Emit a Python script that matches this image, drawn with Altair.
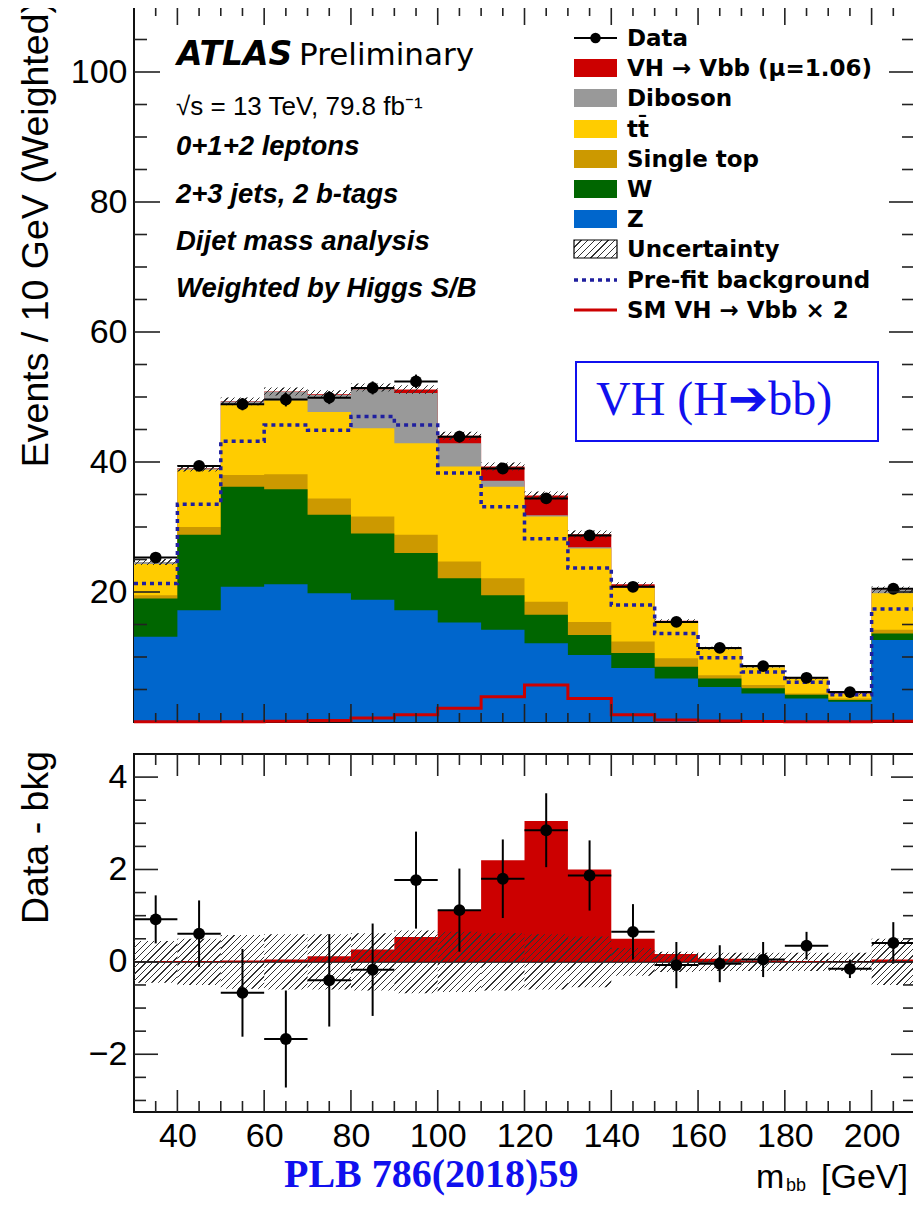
import math
import altair as alt
import pandas as pd

# ---------------- values ----------------
bin_lo = [30, 40, 50, 60, 70, 80, 90, 100, 110, 120, 130, 140, 150, 160, 170, 180, 190, 200]
bin_hi = [40, 50, 60, 70, 80, 90, 100, 110, 120, 130, 140, 150, 160, 170, 180, 190, 200, 210]
bin_mid = [35, 45, 55, 65, 75, 85, 95, 105, 115, 125, 135, 145, 155, 165, 175, 185, 195, 205]

z_jets = [13.1, 17.2, 20.8, 21.2, 19.8, 18.8, 17.2, 15.3, 14.2, 12.1, 10.3, 8.3, 6.7, 5.4, 4.4, 3.6, 3.1, 12.6]
w_jets = [5.9, 11.6, 15.4, 14.6, 12.1, 10.2, 8.8, 6.8, 5.3, 4.4, 3.1, 2.3, 1.8, 1.3, 0.8, 0.6, 0.3, 1.0]
single_top = [0.5, 1.2, 1.8, 2.3, 2.5, 2.6, 2.8, 2.6, 2.6, 2.0, 2.0, 1.8, 1.3, 0.5, 0.5, 0.2, 0.2, 0.6]
ttbar = [4.8, 8.8, 10.8, 11.4, 13.3, 13.6, 14.1, 14.6, 14.1, 13.1, 11.3, 8.2, 5.5, 4.0, 2.7, 2.2, 0.7, 5.6]
diboson = [0.3, 0.2, 0.5, 1.3, 2.6, 6.0, 7.7, 3.6, 0.9, 0.2, 0.2, 0.1, 0.1, 0.1, 0.1, 0.1, 0.1, 0.5]
vh_signal = [0.02, 0.02, 0.03, 0.05, 0.12, 0.27, 0.54, 1.12, 2.2, 3.05, 2.0, 0.5, 0.17, 0.07, 0.03, 0.02, 0.01, 0.05]

prefit_bkg = [21.3, 33.5, 43.2, 45.7, 44.9, 47.0, 45.7, 38.3, 33.1, 28.2, 23.7, 18.0, 13.6, 9.9, 7.7, 6.1, 4.2, 17.4]
sm_vh_x2 = [0.05, 0.05, 0.05, 0.1, 0.25, 0.6, 1.1, 2.1, 3.9, 5.7, 3.6, 1.1, 0.3, 0.15, 0.08, 0.05, 0.03, 0.1]

data_events = [25.3, 39.4, 48.9, 49.6, 49.9, 51.4, 52.4, 43.9, 39.0, 34.4, 28.7, 20.8, 15.4, 11.4, 8.6, 6.8, 4.6, 20.5]
data_err = [0.52, 0.72, 0.95, 1.05, 1.0, 1.0, 1.05, 0.9, 0.85, 0.8, 0.76, 0.6, 0.5, 0.4, 0.38, 0.3, 0.2, 0.45]
data_minus_bkg = [0.92, 0.61, -0.67, -1.67, -0.4, -0.17, 1.77, 1.12, 1.8, 2.85, 1.87, 0.65, -0.07, -0.04, 0.05, 0.35, -0.15, 0.41]
bkg_unc = [0.45, 0.5, 0.58, 0.6, 0.6, 0.62, 0.68, 0.65, 0.62, 0.6, 0.55, 0.3, 0.22, 0.2, 0.2, 0.2, 0.2, 0.5]

x_major_ticks = [40, 60, 80, 100, 120, 140, 160, 180, 200]
x_minor_ticks = [35, 45, 50, 55, 65, 70, 75, 85, 90, 95, 105, 110, 115, 125, 130, 135,
                 145, 150, 155, 165, 170, 175, 185, 190, 195, 205]
upper_y_major = [20, 40, 60, 80, 100]
upper_y_minor = [5, 10, 15, 25, 30, 35, 45, 50, 55, 65, 70, 75, 85, 90, 95, 105]
lower_y_major = [-2, 0, 2, 4]
lower_y_minor = [-3, -2.5, -1.5, -1, -0.5, 0.5, 1, 1.5, 2.5, 3, 3.5]

comp_names = ["Z", "W", "Single top", "tt", "Diboson", "VH"]
comp_colors = ["#0066cc", "#006600", "#cc9900", "#ffcc00", "#999999", "#cc0000"]
comp_values = [z_jets, w_jets, single_top, ttbar, diboson, vh_signal]

legend_labels = ["Data", "VH \u2192 Vbb (\u03bc=1.06)", "Diboson", "tt\u0304", "Single top", "W", "Z",
                 "Uncertainty", "Pre-fit background", "SM VH \u2192 Vbb \u00d7 2"]
info_lines = ["0+1+2 leptons", "2+3 jets, 2 b-tags", "Dijet mass analysis", "Weighted by Higgs S/B"]
upper_title = "Events / 10 GeV (Weighted)"
lower_title = "Data - bkg"

# ---------------- layout / style ----------------
W, H1, H2 = 781, 715, 358
XDOM, Y1DOM, Y2DOM = [30, 210], [0, 110], [-3.25, 4.5]
SANS = "Liberation Sans"
DJ = "DejaVu Sans"
TICK = "#222222"
PREFIT_COLOR = "#1f1f9f"
RED = "#cc0000"

xs = alt.Scale(domain=XDOM, nice=False, zero=False)
y1s = alt.Scale(domain=Y1DOM, nice=False, zero=False)
y2s = alt.Scale(domain=Y2DOM, nice=False, zero=False)
dummy = pd.DataFrame({"a": [0]})
bin_px = W / len(bin_lo)

axis_y1 = alt.Axis(values=upper_y_major, title=None, grid=False, ticks=False,
                   domain=False, labelFont=SANS, labelFontSize=34, labelColor="black", labelPadding=7,
                   labelFlush=False, labelOverlap=False)
axis_y2 = alt.Axis(values=lower_y_major, title=None, grid=False, ticks=False,
                   domain=False, labelFont=SANS, labelFontSize=34, labelColor="black", labelPadding=7,
                   labelFlush=False, labelOverlap=False)
axis_x2 = alt.Axis(values=x_major_ticks, title=None, grid=False, ticks=False, domain=False,
                   labelFont=SANS, labelFontSize=34, labelColor="black", labelPadding=7,
                   labelFlush=False, labelOverlap=False)


def hatch_fill(wpx, hpx, color="#333333", period=4.6, lw=0.9):
    hpx = max(hpx, 1.0)
    s = (wpx * wpx + hpx * hpx) / (wpx + hpx)
    gx, gy = wpx / s, hpx / s
    span = (wpx + hpx) / math.sqrt(2)
    n = max(1, int(round(span / period)))
    f = min(0.8, lw / (span / n))
    clear = "rgba(255,255,255,0)"
    stops = []
    for k in range(n):
        a, b, c = k / n, (k + f) / n, (k + 1) / n
        stops += [{"offset": a, "color": color}, {"offset": b, "color": color},
                  {"offset": b, "color": clear}, {"offset": c, "color": clear}]
    return {"gradient": "linear", "x1": 0, "y1": 0, "x2": gx, "y2": gy, "stops": stops}


def step_df(values):
    return pd.DataFrame({"x": bin_lo + [bin_hi[-1]], "v": list(values) + [values[-1]]})


def x_rules(vals, y0, y1, xaxis):
    return alt.Chart(pd.DataFrame({"t": vals})).mark_rule(color=TICK, strokeWidth=1.6).encode(
        x=alt.X("t:Q", scale=xs, axis=xaxis), y=alt.value(y0), y2=alt.value(y1))


def y_rules(vals, scale, x0, x1, yaxis):
    return alt.Chart(pd.DataFrame({"t": vals})).mark_rule(color=TICK, strokeWidth=1.6).encode(
        y=alt.Y("t:Q", scale=scale, axis=yaxis), x=alt.value(x0), x2=alt.value(x1))


def txt(s, x, y, size, font=SANS, weight="normal", style="normal", color="black", align="left", angle=0):
    return alt.Chart(dummy).mark_text(
        fontSize=size, font=font, fontWeight=weight, fontStyle=style, color=color,
        align=align, baseline="alphabetic", angle=angle).encode(
        x=alt.value(x), y=alt.value(y), text=alt.value(s))


# ---------------- upper panel ----------------
running = [0.0] * len(bin_lo)
tops = []
for vals in comp_values:
    running = [r + v for r, v in zip(running, vals)]
    tops.append(list(running))
total_sb = tops[-1]

XU = dict(scale=xs, axis=None)
YU = dict(scale=y1s, axis=axis_y1)

upper = []
for i in reversed(range(len(comp_names))):
    upper.append(alt.Chart(step_df(tops[i])).mark_area(interpolate="step-after", color=comp_colors[i]).encode(
        x=alt.X("x:Q", **XU), y=alt.Y("v:Q", **YU), y2=alt.datum(0)))

hatch_up = [{"lo": bin_lo[i], "hi": bin_hi[i], "b": total_sb[i] - bkg_unc[i], "t": total_sb[i] + bkg_unc[i],
             "grad": hatch_fill(bin_px, 2 * bkg_unc[i] * H1 / (Y1DOM[1] - Y1DOM[0]))} for i in range(len(bin_lo))]
upper.append(alt.Chart(alt.Data(values=hatch_up)).mark_rect().encode(
    x=alt.X("lo:Q", **XU), x2="hi:Q", y=alt.Y("b:Q", **YU), y2="t:Q",
    fill=alt.Fill("grad:N", scale=None)))

upper.append(alt.Chart(step_df(prefit_bkg)).mark_line(
    interpolate="step-after", color=PREFIT_COLOR, strokeWidth=3.5, strokeDash=[4, 4]).encode(
    x=alt.X("x:Q", **XU), y=alt.Y("v:Q", **YU)))
upper.append(alt.Chart(step_df(sm_vh_x2)).mark_line(
    interpolate="step-after", color=RED, strokeWidth=3).encode(
    x=alt.X("x:Q", **XU), y=alt.Y("v:Q", **YU)))

pts_up = pd.DataFrame({"lo": bin_lo, "hi": bin_hi, "mid": bin_mid, "d": data_events,
                       "e0": [d - e for d, e in zip(data_events, data_err)],
                       "e1": [d + e for d, e in zip(data_events, data_err)]})
upper.append(alt.Chart(pts_up).mark_rule(color="black", strokeWidth=2).encode(
    x=alt.X("lo:Q", **XU), x2="hi:Q", y=alt.Y("d:Q", **YU)))
upper.append(alt.Chart(pts_up).mark_rule(color="black", strokeWidth=2).encode(
    x=alt.X("mid:Q", **XU), y=alt.Y("e0:Q", **YU), y2="e1:Q"))
upper.append(alt.Chart(pts_up).mark_point(filled=True, color="black", size=140, opacity=1).encode(
    x=alt.X("mid:Q", **XU), y=alt.Y("d:Q", **YU)))

upper += [x_rules(x_major_ticks, H1, H1 - 18, None), x_rules(x_minor_ticks, H1, H1 - 9, None),
          x_rules(x_major_ticks, 0, 18, None), x_rules(x_minor_ticks, 0, 9, None),
          y_rules(upper_y_major, y1s, 0, 26, axis_y1), y_rules(upper_y_minor, y1s, 0, 13, axis_y1),
          y_rules(upper_y_major, y1s, W, W - 26, axis_y1), y_rules(upper_y_minor, y1s, W, W - 13, axis_y1)]

upper.append(txt(upper_title, -86, -6, 37.5, align="right", angle=270))

# ATLAS label and info text
upper.append(txt("ATLAS", 43, 58, 33, font=DJ, weight="bold", style="italic"))
upper.append(txt("Preliminary", 165, 58, 31, font=DJ))
upper.append(txt("\u221as = 13 TeV, 79.8 fb\u207b\u00b9", 42, 108, 26))
for k, line in enumerate(info_lines):
    upper.append(txt(line, 42, [148, 196, 243, 290][k], 27.5, weight="bold", style="italic"))

# legend
rows = [31, 61, 91, 122, 152, 182, 212, 242, 273, 303]
lx0, lx1, ltx = 440, 483, 493
upper.append(alt.Chart(dummy).mark_rule(color="black", strokeWidth=2).encode(
    x=alt.value(lx0), x2=alt.value(lx1), y=alt.value(rows[0])))
upper.append(alt.Chart(dummy).mark_point(filled=True, color="black", size=110, opacity=1).encode(
    x=alt.value((lx0 + lx1) / 2), y=alt.value(rows[0])))
swatch_cols = [comp_colors[5], comp_colors[4], comp_colors[3], comp_colors[2], comp_colors[1], comp_colors[0]]
for k, col in enumerate(swatch_cols):
    r = rows[k + 1]
    upper.append(alt.Chart(dummy).mark_rect(color=col).encode(
        x=alt.value(lx0), x2=alt.value(lx1), y=alt.value(r - 9), y2=alt.value(r + 9)))
upper.append(alt.Chart(dummy).mark_rect(fill=alt.Gradient(**hatch_fill(lx1 - lx0, 18)), stroke="black",
                                        strokeWidth=1.2).encode(
    x=alt.value(lx0), x2=alt.value(lx1), y=alt.value(rows[7] - 9), y2=alt.value(rows[7] + 9)))
upper.append(alt.Chart(dummy).mark_rule(color=PREFIT_COLOR, strokeWidth=3.5, strokeDash=[4, 4]).encode(
    x=alt.value(lx0), x2=alt.value(lx1), y=alt.value(rows[8])))
upper.append(alt.Chart(dummy).mark_rule(color=RED, strokeWidth=3).encode(
    x=alt.value(lx0), x2=alt.value(lx1), y=alt.value(rows[9])))
for k, lab in enumerate(legend_labels):
    upper.append(txt(lab, ltx, rows[k] + 8, 23, font=DJ, weight="bold"))

# VH (H->bb) box
upper.append(alt.Chart(dummy).mark_rect(fill="white", stroke="#1010ee", strokeWidth=2).encode(
    x=alt.value(442), x2=alt.value(744), y=alt.value(355), y2=alt.value(434)))
upper.append(txt("VH (H\u2794bb)", 462, 408, 48, font="Liberation Serif, DejaVu Sans", color="#1010ee"))

upper_chart = alt.layer(*upper).properties(width=W, height=H1)

# ---------------- lower panel ----------------
XL = dict(scale=xs, axis=axis_x2)
YL = dict(scale=y2s, axis=axis_y2)

lower = []
lower.append(alt.Chart(step_df(vh_signal)).mark_area(interpolate="step-after", color=RED, opacity=0).encode(
    x=alt.X("x:Q", **XL), y=alt.Y("v:Q", **YL), y2=alt.datum(0)))
lower.append(alt.Chart(dummy).mark_rule(color="black", strokeWidth=1.6).encode(
    y=alt.YDatum(0, **YL), x=alt.value(0), x2=alt.value(W)))
lower.append(alt.Chart(step_df(vh_signal)).mark_area(interpolate="step-after", color=RED).encode(
    x=alt.X("x:Q", **XL), y=alt.Y("v:Q", **YL), y2=alt.datum(0)))
hatch_lo = [{"lo": bin_lo[i], "hi": bin_hi[i], "b": -bkg_unc[i], "t": bkg_unc[i],
             "grad": hatch_fill(bin_px, 2 * bkg_unc[i] * H2 / (Y2DOM[1] - Y2DOM[0]))} for i in range(len(bin_lo))]
lower.append(alt.Chart(alt.Data(values=hatch_lo)).mark_rect().encode(
    x=alt.X("lo:Q", **XL), x2="hi:Q", y=alt.Y("b:Q", **YL), y2="t:Q",
    fill=alt.Fill("grad:N", scale=None)))
pts_lo = pd.DataFrame({"lo": bin_lo, "hi": bin_hi, "mid": bin_mid, "d": data_minus_bkg,
                       "e0": [d - e for d, e in zip(data_minus_bkg, data_err)],
                       "e1": [d + e for d, e in zip(data_minus_bkg, data_err)]})
lower.append(alt.Chart(pts_lo).mark_rule(color="black", strokeWidth=2).encode(
    x=alt.X("lo:Q", **XL), x2="hi:Q", y=alt.Y("d:Q", **YL)))
lower.append(alt.Chart(pts_lo).mark_rule(color="black", strokeWidth=2).encode(
    x=alt.X("mid:Q", **XL), y=alt.Y("e0:Q", **YL), y2="e1:Q"))
lower.append(alt.Chart(pts_lo).mark_point(filled=True, color="black", size=140, opacity=1).encode(
    x=alt.X("mid:Q", **XL), y=alt.Y("d:Q", **YL)))
lower += [x_rules(x_major_ticks, H2, H2 - 22, axis_x2), x_rules(x_minor_ticks, H2, H2 - 11, axis_x2),
          x_rules(x_major_ticks, 0, 22, axis_x2), x_rules(x_minor_ticks, 0, 11, axis_x2),
          y_rules(lower_y_major, y2s, 0, 24, axis_y2), y_rules(lower_y_minor, y2s, 0, 12, axis_y2),
          y_rules(lower_y_major, y2s, W, W - 24, axis_y2), y_rules(lower_y_minor, y2s, W, W - 12, axis_y2)]

lower.append(txt(lower_title, -86, -3, 37.5, align="right", angle=270))
lower.append(txt("m", 622, 434, 34))
lower.append(txt("bb", 652, 437, 18))
lower.append(txt("[GeV]", 687, 434, 34))
lower.append(txt("PLB 786(2018)59", 150, 433, 40, font="Liberation Serif", weight="bold", color="#1010ee"))

lower_chart = alt.layer(*lower).properties(width=W, height=H2)

chart = alt.vconcat(upper_chart, lower_chart, spacing=32, bounds="flush").properties(
    padding={"left": 9, "top": -8, "right": -10, "bottom": 0}
).configure_view(stroke="#111111", strokeWidth=2)

chart.save("out.html", embed_options={"renderer": "svg", "actions": False})
